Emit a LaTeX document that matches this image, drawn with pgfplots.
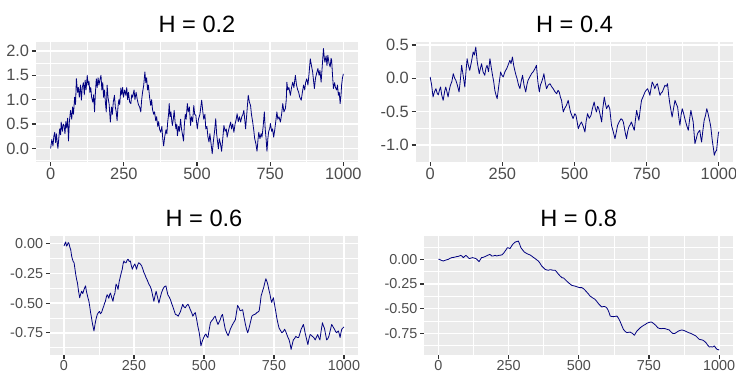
\documentclass[border=0pt]{standalone}
\usepackage{pgfplots}
\pgfplotsset{compat=1.18}
\usepackage{fontspec}
\setmainfont{Liberation Sans}
\definecolor{ggbg}{HTML}{EBEBEB}
\definecolor{ticktext}{HTML}{4D4D4D}
\definecolor{tickmark}{HTML}{333333}
\definecolor{pathcol}{HTML}{000080}
\pgfplotsset{
  ggpanel/.style={
    scale only axis, anchor=south west,
    axis background/.style={fill=ggbg},
    axis line style={draw=none},
    xmin=-50, xmax=1050,
    xtick={0,250,500,750,1000},
    xticklabels={0,250,500,750,1000},
    minor xtick={125,375,625,875},
    grid=both,
    major grid style={white, line width=1.1pt},
    minor grid style={white, line width=0.55pt},
    tick align=outside, xtick pos=bottom, ytick pos=left,
    major tick length=3pt, minor tick length=0pt,
    tick style={color=tickmark, line width=0.8pt},
    ticklabel style={text=ticktext},
    yticklabel style={inner sep=2pt},
    every axis title/.style={at={(0.5,1)}, anchor=base, yshift=7.3pt, font=\fontsize{17.7}{20}\selectfont},
    clip=true,
  },
  toprow/.style={ticklabel style={font=\fontsize{12.3}{14}\selectfont}, xticklabel style={inner sep=1.5pt}},
  botrow/.style={ticklabel style={font=\fontsize{10.8}{12}\selectfont}, xticklabel style={inner sep=0.4pt}},
  ggline/.style={color=pathcol, line width=0.6pt, line join=round},
}
\begin{document}
\begin{tikzpicture}
\path[use as bounding box] (0,0) rectangle (552pt,279pt);
% H = 0.2
\begin{axis}[ggpanel, toprow, at={(27pt,157.5pt)}, width=241.5pt, height=90pt,
  ymin=-0.28, ymax=2.185, ytick={0,0.5,1,1.5,2}, yticklabels={0.0,0.5,1.0,1.5,2.0},
  minor ytick={-0.25,0.25,0.75,1.25,1.75}, title={H = 0.2}]
\addplot[ggline] coordinates {
(0,0.00) (4,0.18) (8,0.05) (11,0.25) (14,0.33) (17,0.12) (20,0.30) (23,0.08) (25,0.00) (28,0.22)
(31,0.40) (34,0.28) (36,0.54) (40,0.35) (43,0.50) (46,0.47) (49,0.30) (52,0.55) (55,0.42) (58,0.62)
(61,0.15) (64,0.55) (68,0.78) (72,0.60) (75,0.85) (78,0.70) (82,1.05) (85,0.90) (88,1.43) (92,1.15)
(95,1.25) (98,1.05) (102,1.30) (105,0.99) (108,1.25) (112,1.35) (115,1.10) (118,1.40) (121,1.20) (125,1.50)
(128,1.30) (131,1.38) (134,1.15) (137,1.25) (140,1.05) (144,0.95) (147,1.10) (150,0.75) (153,1.15) (156,1.43)
(159,1.25) (162,1.45) (165,1.30) (168,1.40) (172,1.50) (175,1.20) (178,1.35) (181,1.05) (184,1.20) (187,0.95)
(190,0.75) (193,1.30) (196,1.05) (200,0.90) (204,0.54) (208,0.85) (211,0.70) (214,0.95) (218,1.09) (221,0.85)
(224,0.75) (227,0.57) (230,0.85) (233,1.00) (236,0.90) (240,1.24) (243,1.10) (246,1.25) (249,1.05) (253,1.20)
(257,1.09) (260,1.25) (263,1.00) (266,1.15) (270,0.95) (274,0.92) (277,1.10) (280,1.05) (285,1.20) (288,1.00)
(292,1.15) (296,1.00) (300,0.90) (304,0.85) (308,0.75) (311,1.00) (314,1.15) (318,1.30) (322,1.57) (325,1.35)
(328,1.45) (331,1.20) (334,1.30) (338,1.05) (342,0.88) (345,1.00) (348,0.80) (352,0.70) (355,0.75) (359,0.57)
(362,0.65) (366,0.45) (369,0.55) (372,0.40) (376,0.33) (380,0.45) (383,0.20) (386,0.05) (390,0.25) (394,0.38)
(397,0.30) (400,0.55) (403,0.70) (405,0.92) (408,0.65) (411,0.75) (414,0.55) (416,0.47) (419,0.60) (422,0.78)
(425,0.55) (428,0.40) (431,0.50) (433,0.26) (437,0.45) (440,0.35) (444,0.60) (447,0.40) (450,0.30) (454,0.15)
(457,0.50) (460,0.70) (463,0.60) (467,0.92) (470,0.75) (474,0.85) (478,0.47) (481,0.65) (485,0.55) (489,0.88)
(492,0.70) (496,0.68) (501,0.40) (505,0.60) (510,0.70) (513,0.85) (516,0.99) (520,0.75) (523,0.60) (527,0.70)
(530,0.40) (534,0.45) (537,0.25) (541,0.13) (544,0.30) (548,0.10) (552,-0.11) (556,0.15) (560,0.35) (564,0.61)
(567,0.30) (570,0.15) (573,-0.01) (576,0.20) (580,0.10) (584,-0.06) (588,0.20) (592,0.47) (596,0.35) (600,0.40)
(603,0.23) (607,0.35) (611,0.45) (615,0.54) (618,0.40) (622,0.50) (626,0.33) (630,0.50) (634,0.60) (637,0.71)
(641,0.55) (645,0.65) (649,0.54) (653,0.65) (657,0.70) (660,0.78) (663,0.60) (666,0.40) (670,0.70) (675,1.09)
(679,0.95) (683,0.88) (686,0.70) (690,0.55) (694,0.37) (697,0.20) (701,0.10) (705,-0.06) (708,0.15) (711,0.33)
(715,0.20) (719,0.30) (722,0.23) (726,0.45) (730,0.75) (733,0.40) (736,0.20) (739,-0.06) (742,0.20) (745,0.35)
(748,0.40) (751,0.51) (755,0.35) (758,0.40) (762,0.23) (766,0.40) (769,0.55) (773,0.75) (776,0.60) (780,0.65)
(785,0.54) (789,0.70) (793,0.92) (797,0.75) (802,0.82) (805,1.00) (807,1.36) (810,1.20) (814,1.25) (819,1.09)
(823,1.25) (827,1.36) (831,1.25) (836,1.50) (840,1.30) (844,1.20) (847,1.16) (851,1.05) (856,0.99) (860,1.15)
(864,1.30) (868,1.20) (871,1.35) (875,1.43) (879,1.30) (883,1.55) (887,1.84) (891,1.70) (895,1.57) (898,1.40)
(901,1.23) (905,1.45) (909,1.55) (913,1.64) (917,1.50) (920,1.60) (924,1.36) (928,1.70) (932,2.05) (935,1.85)
(937,1.77) (941,1.90) (944,1.70) (947,1.91) (951,1.75) (955,1.67) (958,1.85) (960,1.81) (963,1.50) (966,1.23)
(970,1.35) (973,1.25) (977,1.20) (980,1.30) (983,1.09) (986,1.15) (989,0.92) (992,1.10) (994,1.30) (997,1.45)
(1000,1.53)
};
\end{axis}
% H = 0.4
\begin{axis}[ggpanel, toprow, at={(311.8pt,157.5pt)}, width=238.2pt, height=90pt,
  ymin=-1.255, ymax=0.545, ytick={-1,-0.5,0,0.5}, yticklabels={-1.0,-0.5,0.0,0.5},
  minor ytick={-0.75,-0.25,0.25}, title={H = 0.4}]
\addplot[ggline] coordinates {
(0,0.02) (5,-0.10) (10,-0.28) (15,-0.20) (20,-0.155) (24,-0.22) (28,-0.25) (32,-0.18) (36,-0.13) (40,-0.25)
(45,-0.33) (50,-0.20) (54,-0.13) (58,-0.20) (62,-0.28) (66,-0.18) (70,-0.105) (75,-0.05) (80,0.07) (85,0.00)
(89,-0.03) (94,-0.10) (100,-0.205) (104,-0.05) (109,0.195) (114,0.05) (120,-0.13) (124,0.10) (128,0.295) (132,0.20)
(137,0.12) (143,0.25) (149,0.395) (153,0.35) (158,0.47) (163,0.245) (170,0.07) (174,0.15) (178,0.22) (183,0.10)
(189,0.045) (193,0.15) (197,0.195) (202,0.10) (207,0.295) (212,0.15) (216,0.045) (220,-0.05) (224,-0.18) (228,-0.25)
(232,-0.305) (238,-0.10) (244,0.095) (248,0.05) (253,0.02) (259,0.10) (265,0.145) (270,0.20) (276,0.27) (280,0.22)
(285,0.32) (289,0.20) (293,0.12) (297,0.05) (301,-0.005) (306,-0.10) (311,-0.155) (315,-0.05) (320,0.045) (325,-0.10)
(331,-0.205) (335,-0.10) (339,-0.03) (345,0.02) (351,0.07) (357,0.10) (363,0.145) (368,0.195) (373,-0.05) (378,-0.205)
(382,-0.10) (386,-0.055) (390,0.00) (394,0.07) (398,-0.05) (403,-0.155) (409,-0.10) (415,-0.08) (420,-0.12) (426,-0.155)
(432,-0.20) (438,-0.23) (443,-0.18) (447,-0.205) (451,-0.28) (455,-0.33) (458,-0.42) (461,-0.505) (466,-0.45) (472,-0.405)
(478,-0.33) (482,-0.42) (486,-0.505) (490,-0.55) (495,-0.605) (501,-0.53) (505,-0.555) (509,-0.65) (513,-0.755) (518,-0.70)
(524,-0.655) (530,-0.72) (536,-0.805) (540,-0.65) (545,-0.53) (551,-0.60) (557,-0.555) (562,-0.45) (568,-0.355) (572,-0.45)
(576,-0.505) (580,-0.42) (584,-0.455) (589,-0.55) (594,-0.655) (598,-0.45) (603,-0.28) (607,-0.38) (611,-0.455) (617,-0.40)
(622,-0.455) (628,-0.705) (634,-0.80) (640,-0.905) (645,-0.80) (649,-0.705) (655,-0.65) (661,-0.605) (665,-0.62) (669,-0.655)
(675,-0.80) (680,-0.905) (684,-0.80) (688,-0.73) (692,-0.70) (697,-0.655) (702,-0.72) (707,-0.78) (711,-0.62) (715,-0.48)
(719,-0.56) (723,-0.63) (728,-0.45) (732,-0.33) (738,-0.27) (744,-0.205) (748,-0.18) (753,-0.155) (757,-0.20) (761,-0.255)
(765,-0.15) (769,-0.055) (774,-0.10) (778,-0.155) (783,-0.10) (787,-0.08) (792,-0.18) (796,-0.255) (800,-0.22) (804,-0.205)
(809,-0.15) (813,-0.105) (818,-0.12) (822,-0.08) (826,-0.25) (830,-0.38) (834,-0.48) (838,-0.58) (843,-0.45) (848,-0.33)
(852,-0.38) (857,-0.43) (861,-0.58) (865,-0.705) (869,-0.55) (873,-0.455) (878,-0.53) (882,-0.605) (888,-0.70) (894,-0.78)
(899,-0.60) (903,-0.48) (907,-0.57) (911,-0.655) (914,-0.82) (917,-0.98) (922,-0.90) (926,-0.83) (930,-0.80) (934,-0.78)
(937,-0.88) (940,-0.955) (944,-0.80) (949,-0.63) (954,-0.55) (958,-0.455) (962,-0.52) (965,-0.58) (969,-0.66) (972,-0.73)
(975,-0.85) (977,-0.93) (981,-1.05) (984,-1.155) (988,-1.10) (992,-1.08) (995,-0.95) (998,-0.83) (1000,-0.80)
};
\end{axis}
% H = 0.6
\begin{axis}[ggpanel, botrow, at={(37.5pt,12.5pt)}, width=231pt, height=89.5pt,
  ymin=-0.94, ymax=0.065, ytick={-0.75,-0.5,-0.25,0}, yticklabels={-0.75,-0.50,-0.25,0.00},
  minor ytick={-0.875,-0.625,-0.375,-0.125}, title={H = 0.6}]
\addplot[ggline] coordinates {
(0,-0.02) (3,0.00) (6,0.015) (9,-0.02) (12,-0.01) (15,0.01) (18,0.00) (21,-0.03) (24,-0.05) (27,-0.10)
(30,-0.13) (33,-0.15) (36,-0.16) (39,-0.21) (42,-0.26) (45,-0.30) (48,-0.33) (52,-0.40) (56,-0.455) (60,-0.42)
(63,-0.40) (67,-0.42) (71,-0.39) (74,-0.37) (77,-0.355) (80,-0.40) (83,-0.43) (86,-0.46) (89,-0.485) (92,-0.53)
(95,-0.58) (98,-0.62) (101,-0.665) (104,-0.70) (107,-0.735) (110,-0.69) (113,-0.65) (116,-0.62) (119,-0.595) (123,-0.58)
(127,-0.57) (130,-0.59) (134,-0.58) (138,-0.55) (142,-0.525) (145,-0.50) (148,-0.485) (151,-0.45) (154,-0.43) (157,-0.44)
(160,-0.46) (163,-0.43) (166,-0.415) (170,-0.45) (175,-0.485) (178,-0.44) (182,-0.415) (184,-0.37) (186,-0.34) (190,-0.36)
(193,-0.385) (197,-0.32) (202,-0.27) (205,-0.24) (208,-0.215) (211,-0.17) (214,-0.145) (218,-0.16) (222,-0.16) (225,-0.14)
(229,-0.13) (233,-0.15) (237,-0.145) (240,-0.18) (244,-0.215) (248,-0.19) (253,-0.17) (256,-0.19) (259,-0.215) (263,-0.18)
(267,-0.16) (272,-0.17) (277,-0.185) (281,-0.21) (285,-0.24) (289,-0.26) (293,-0.285) (298,-0.31) (303,-0.34) (308,-0.36)
(312,-0.385) (316,-0.43) (321,-0.485) (325,-0.44) (329,-0.40) (334,-0.45) (339,-0.50) (343,-0.46) (348,-0.415) (352,-0.39)
(356,-0.37) (360,-0.36) (364,-0.355) (368,-0.40) (371,-0.43) (376,-0.45) (380,-0.47) (384,-0.50) (388,-0.525) (393,-0.56)
(398,-0.595) (403,-0.60) (408,-0.61) (412,-0.59) (416,-0.57) (420,-0.54) (424,-0.51) (428,-0.53) (433,-0.54) (438,-0.52)
(443,-0.51) (447,-0.53) (451,-0.555) (456,-0.58) (460,-0.61) (465,-0.59) (469,-0.58) (474,-0.64) (478,-0.695) (483,-0.75)
(486,-0.80) (489,-0.86) (494,-0.82) (499,-0.79) (503,-0.77) (507,-0.76) (510,-0.78) (514,-0.79) (518,-0.73) (523,-0.665)
(527,-0.65) (531,-0.64) (536,-0.62) (540,-0.61) (545,-0.65) (550,-0.68) (554,-0.66) (558,-0.64) (562,-0.61) (566,-0.595)
(571,-0.66) (576,-0.72) (581,-0.75) (586,-0.775) (590,-0.75) (594,-0.72) (598,-0.70) (602,-0.68) (607,-0.66) (612,-0.64)
(616,-0.58) (620,-0.52) (625,-0.54) (629,-0.565) (634,-0.56) (638,-0.555) (643,-0.62) (648,-0.68) (652,-0.72) (656,-0.75)
(660,-0.72) (663,-0.69) (667,-0.65) (671,-0.61) (676,-0.60) (681,-0.595) (685,-0.59) (689,-0.58) (693,-0.575) (697,-0.565)
(701,-0.50) (704,-0.44) (709,-0.40) (713,-0.37) (717,-0.33) (721,-0.295) (725,-0.32) (728,-0.345) (732,-0.39) (736,-0.43)
(739,-0.47) (742,-0.495) (745,-0.47) (748,-0.455) (751,-0.50) (754,-0.54) (757,-0.58) (760,-0.625) (764,-0.67) (768,-0.71)
(773,-0.73) (778,-0.75) (783,-0.74) (788,-0.72) (792,-0.74) (796,-0.765) (800,-0.79) (804,-0.81) (808,-0.85) (811,-0.89)
(815,-0.85) (819,-0.81) (823,-0.80) (828,-0.78) (833,-0.79) (838,-0.79) (842,-0.76) (847,-0.72) (851,-0.70) (855,-0.68)
(858,-0.71) (861,-0.75) (866,-0.80) (871,-0.85) (875,-0.80) (879,-0.765) (883,-0.77) (887,-0.78) (892,-0.79) (897,-0.81)
(901,-0.79) (906,-0.765) (910,-0.79) (914,-0.81) (918,-0.74) (923,-0.665) (926,-0.69) (930,-0.71) (934,-0.76) (938,-0.81)
(942,-0.80) (946,-0.78) (951,-0.73) (956,-0.68) (961,-0.70) (966,-0.72) (970,-0.74) (974,-0.75) (977,-0.74) (980,-0.735)
(983,-0.76) (986,-0.79) (989,-0.75) (992,-0.72) (996,-0.71) (1000,-0.70)
};
\end{axis}
% H = 0.8
\begin{axis}[ggpanel, botrow, at={(318.2pt,12.5pt)}, width=231.75pt, height=89.5pt,
  ymin=-0.973, ymax=0.236, ytick={-0.75,-0.5,-0.25,0}, yticklabels={-0.75,-0.50,-0.25,0.00},
  minor ytick={-0.875,-0.625,-0.375,-0.125,0.125}, title={H = 0.8}]
\addplot[ggline] coordinates {
(0,0.00) (4,0.00) (10,-0.01) (18,-0.017) (26,-0.008) (36,0.00) (42,0.01) (48,0.017) (56,0.02) (65,0.027)
(72,0.03) (80,0.04) (85,0.03) (89,0.017) (94,0.03) (98,0.04) (104,0.025) (110,0.007) (116,0.012) (122,0.017)
(128,0.012) (134,0.007) (140,-0.008) (145,-0.024) (150,0.00) (154,0.017) (160,0.02) (166,0.027) (175,0.04) (184,0.05)
(190,0.034) (196,0.034) (202,0.04) (208,0.034) (216,0.04) (226,0.044) (232,0.06) (238,0.084) (242,0.10) (246,0.118)
(250,0.115) (255,0.108) (260,0.13) (265,0.152) (270,0.165) (274,0.175) (280,0.18) (285,0.185) (290,0.15) (294,0.118)
(300,0.095) (306,0.074) (314,0.06) (321,0.05) (326,0.045) (332,0.034) (338,0.02) (345,0.007) (350,-0.005) (356,-0.017)
(362,-0.04) (368,-0.068) (374,-0.085) (380,-0.101) (386,-0.108) (392,-0.111) (398,-0.105) (404,-0.108) (410,-0.112) (416,-0.111)
(422,-0.13) (428,-0.152) (434,-0.17) (440,-0.186) (446,-0.19) (451,-0.203) (457,-0.22) (463,-0.237) (469,-0.25) (475,-0.264)
(481,-0.268) (487,-0.272) (495,-0.28) (503,-0.287) (511,-0.287) (518,-0.30) (523,-0.315) (528,-0.331) (534,-0.35) (540,-0.372)
(549,-0.39) (558,-0.406) (565,-0.43) (572,-0.456) (577,-0.47) (582,-0.483) (588,-0.478) (594,-0.48) (599,-0.49) (603,-0.507)
(608,-0.54) (612,-0.575) (618,-0.58) (624,-0.581) (630,-0.578) (636,-0.575) (642,-0.60) (648,-0.635) (653,-0.67) (659,-0.71)
(665,-0.73) (671,-0.743) (677,-0.74) (683,-0.737) (687,-0.745) (691,-0.75) (695,-0.762) (698,-0.77) (703,-0.745) (707,-0.727)
(713,-0.71) (719,-0.693) (725,-0.68) (731,-0.669) (737,-0.66) (742,-0.649) (750,-0.64) (758,-0.635) (764,-0.645) (770,-0.659)
(776,-0.675) (781,-0.693) (787,-0.70) (793,-0.703) (800,-0.70) (808,-0.703) (815,-0.71) (822,-0.716) (828,-0.735) (834,-0.75)
(838,-0.752) (843,-0.75) (849,-0.738) (855,-0.727) (861,-0.72) (867,-0.716) (873,-0.72) (879,-0.727) (885,-0.735) (891,-0.743)
(898,-0.75) (905,-0.76) (911,-0.768) (917,-0.777) (923,-0.795) (929,-0.811) (935,-0.815) (941,-0.818) (947,-0.83) (953,-0.845)
(959,-0.87) (965,-0.889) (970,-0.885) (976,-0.889) (980,-0.882) (983,-0.878) (988,-0.90) (992,-0.912) (996,-0.915) (1000,-0.919)
};
\end{axis}
\end{tikzpicture}
\end{document}
